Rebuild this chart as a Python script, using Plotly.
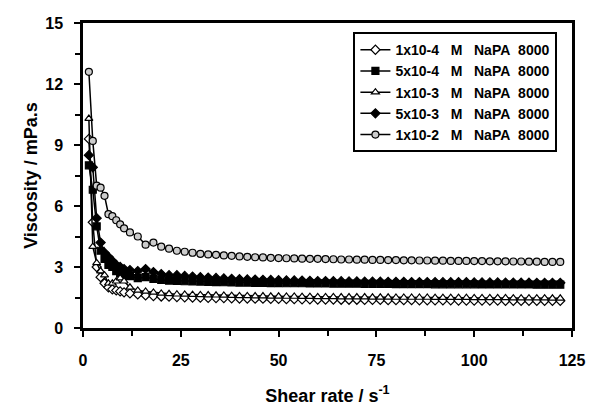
import plotly.graph_objects as go

# Shear rate (s^-1)
shear_rate = [1.5, 2.5, 3.5, 4.5, 5.5, 6.5, 7.5, 8.5, 9.5, 10.5,
              12, 14, 16, 18, 20, 22, 24, 26, 28, 30, 32, 34, 36, 38, 40,
              42, 44, 46, 48, 50, 52, 54, 56, 58, 60, 62, 64, 66, 68, 70,
              72, 74, 76, 78, 80, 82, 84, 86, 88, 90, 92, 94, 96, 98, 100,
              102, 104, 106, 108, 110, 112, 114, 116, 118, 120, 122]

visc_1e4 = [9.3, 5.2, 3.0, 2.5, 2.2, 2.0, 1.9, 1.85, 1.8, 1.75,
            1.7, 1.65, 1.6, 1.57, 1.55, 1.54, 1.52, 1.51, 1.5, 1.49, 1.48, 1.47, 1.47, 1.46, 1.45,
            1.45, 1.44, 1.44, 1.43, 1.43, 1.42, 1.42, 1.41, 1.41, 1.4, 1.4, 1.4, 1.39, 1.39, 1.39,
            1.38, 1.38, 1.38, 1.37, 1.37, 1.37, 1.37, 1.36, 1.36, 1.36, 1.36, 1.36, 1.35, 1.35, 1.35,
            1.35, 1.35, 1.35, 1.34, 1.34, 1.34, 1.34, 1.34, 1.34, 1.34, 1.34]

visc_5e4 = [8.0, 6.8, 5.0, 3.8, 3.4, 3.1, 3.0, 2.8, 2.7, 2.6,
            2.55, 2.45, 2.5, 2.42, 2.36, 2.33, 2.32, 2.3, 2.29, 2.28, 2.27, 2.26, 2.25, 2.24, 2.23,
            2.23, 2.22, 2.22, 2.21, 2.21, 2.2, 2.2, 2.2, 2.19, 2.19, 2.19, 2.18, 2.18, 2.18, 2.18,
            2.17, 2.17, 2.17, 2.17, 2.16, 2.16, 2.16, 2.16, 2.16, 2.15, 2.15, 2.15, 2.15, 2.15, 2.15,
            2.14, 2.14, 2.14, 2.14, 2.14, 2.14, 2.14, 2.13, 2.13, 2.13, 2.13]

visc_1e3 = [10.3, 4.0, 3.2, 2.8, 2.6, 2.2, 2.2, 2.3, 2.45, 2.3,
            2.0, 1.85, 1.8, 1.75, 1.7, 1.68, 1.66, 1.65, 1.64, 1.63, 1.62, 1.61, 1.6, 1.59, 1.58,
            1.58, 1.57, 1.57, 1.56, 1.56, 1.55, 1.55, 1.54, 1.54, 1.53, 1.53, 1.53, 1.52, 1.52, 1.52,
            1.52, 1.51, 1.51, 1.51, 1.5, 1.5, 1.5, 1.5, 1.5, 1.49, 1.49, 1.49, 1.49, 1.49, 1.48,
            1.48, 1.48, 1.48, 1.48, 1.47, 1.47, 1.47, 1.47, 1.47, 1.46, 1.46]

visc_5e3 = [8.5, 7.9, 5.4, 4.2, 3.7, 3.5, 3.3, 3.1, 3.0, 2.9,
            2.85, 2.8, 2.9, 2.75, 2.65, 2.6, 2.6, 2.56, 2.53, 2.5, 2.48, 2.46, 2.44, 2.42, 2.4,
            2.39, 2.38, 2.37, 2.36, 2.35, 2.34, 2.34, 2.33, 2.32, 2.31, 2.31, 2.3, 2.3, 2.29, 2.29,
            2.28, 2.28, 2.28, 2.27, 2.27, 2.27, 2.26, 2.26, 2.26, 2.26, 2.25, 2.25, 2.25, 2.25, 2.24,
            2.24, 2.24, 2.24, 2.23, 2.23, 2.23, 2.23, 2.22, 2.22, 2.22, 2.22]

visc_1e2 = [12.6, 9.2, 7.0, 6.9, 6.5, 5.6, 5.5, 5.3, 5.1, 4.9,
            4.7, 4.5, 4.1, 4.2, 4.0, 3.9, 3.8, 3.75, 3.7, 3.65, 3.62, 3.6, 3.57, 3.55, 3.52,
            3.5, 3.48, 3.47, 3.45, 3.44, 3.43, 3.42, 3.41, 3.4, 3.4, 3.39, 3.38, 3.37, 3.37, 3.36,
            3.36, 3.35, 3.35, 3.34, 3.34, 3.33, 3.33, 3.32, 3.32, 3.31, 3.31, 3.3, 3.3, 3.3, 3.29,
            3.29, 3.28, 3.28, 3.28, 3.27, 3.27, 3.26, 3.26, 3.25, 3.25, 3.25]

NB = "\u00a0"
series_names = [
    f"1x10-4{NB*3}M{NB*3}NaPA{NB*2}8000",
    f"5x10-4{NB*3}M{NB*3}NaPA{NB*2}8000",
    f"1x10-3{NB*3}M{NB*3}NaPA{NB*2}8000",
    f"5x10-3{NB*3}M{NB*3}NaPA{NB*2}8000",
    f"1x10-2{NB*3}M{NB*3}NaPA{NB*2}8000",
]
series_values = [visc_1e4, visc_5e4, visc_1e3, visc_5e3, visc_1e2]

x_ticks = [0, 25, 50, 75, 100, 125]
y_ticks = [0, 3, 6, 9, 12, 15]

styles = [
    dict(symbol="diamond", color="white"),
    dict(symbol="square", color="black"),
    dict(symbol="triangle-up", color="white"),
    dict(symbol="diamond", color="black"),
    dict(symbol="circle", color="#cccccc"),
]

fig = go.Figure()
for name, vals, st in zip(series_names, series_values, styles):
    fig.add_trace(go.Scatter(
        x=shear_rate, y=vals, name=name, mode="lines+markers",
        line=dict(color="black", width=1.5),
        marker=dict(symbol=st["symbol"], color=st["color"], size=7,
                    line=dict(color="black", width=1.2)),
    ))

font_family = "Liberation Sans, Arial, sans-serif"

fig.update_layout(
    width=590, height=410,
    margin=dict(l=82.5, r=18, t=23, b=82),
    paper_bgcolor="white", plot_bgcolor="white",
    font=dict(family=font_family, color="black"),
    showlegend=True,
    legend=dict(
        x=0.553, y=0.97, xanchor="left", yanchor="top",
        bordercolor="black", borderwidth=2, bgcolor="white",
        font=dict(size=14, family=font_family, weight="bold"),
        tracegroupgap=0, itemwidth=30,
    ),
    xaxis=dict(
        range=[0, 125], tickvals=x_ticks, showgrid=False, zeroline=False,
        automargin=False,
        showline=True, linecolor="black", linewidth=2.5, mirror=True,
        ticks="outside", ticklen=6, tickwidth=2, tickcolor="black",
        ticklabelstandoff=10,
        minor=dict(dtick=12.5, ticks="outside", ticklen=5, tickwidth=2, tickcolor="black"),
        tickfont=dict(size=16, family=font_family, weight="bold"),
        title=dict(text="Shear rate / s<sup>-1</sup>", standoff=22,
                   font=dict(size=18, family=font_family, weight="bold")),
    ),
    yaxis=dict(
        range=[0, 15], tickvals=y_ticks, showgrid=False, zeroline=False,
        automargin=False,
        showline=True, linecolor="black", linewidth=2.5, mirror=True,
        ticks="outside", ticklen=6, tickwidth=2, tickcolor="black",
        ticklabelstandoff=8,
        minor=dict(dtick=1.5, ticks="outside", ticklen=5, tickwidth=2, tickcolor="black"),
        tickfont=dict(size=16, family=font_family, weight="bold"),
        title=dict(text="Viscosity / mPa.s", standoff=3,
                   font=dict(size=18, family=font_family, weight="bold")),
    ),
)

fig.write_html("out.html")
